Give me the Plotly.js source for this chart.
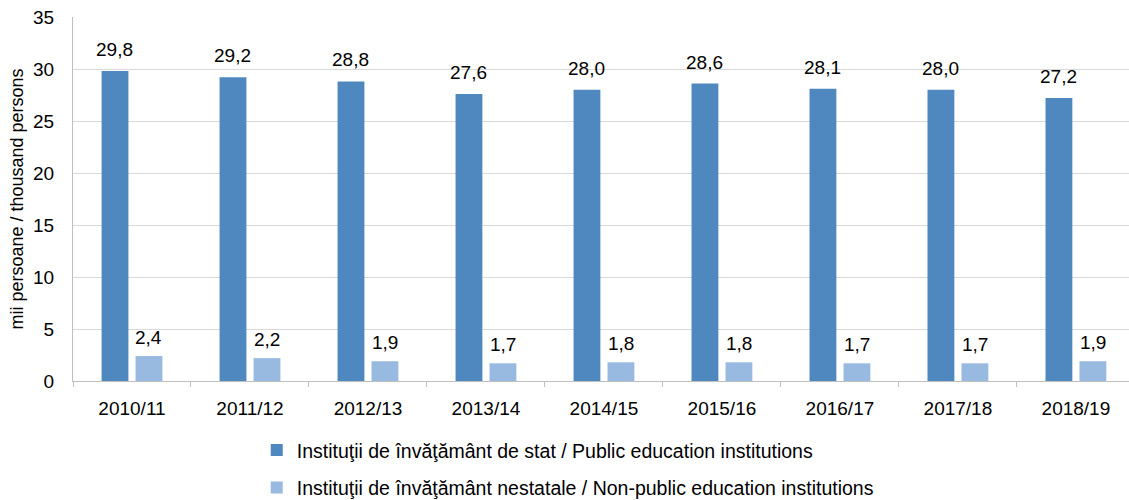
<!DOCTYPE html>
<html>
<head>
<meta charset="utf-8">
<script src="https://cdn.plot.ly/plotly-3.0.1.min.js"></script>
<style>html,body{margin:0;padding:0;background:#fff;}#chart{width:1129px;height:500px;}</style>
</head>
<body>
<div id="chart"></div>
<script>
var years = ["2010/11","2011/12","2012/13","2013/14","2014/15","2015/16","2016/17","2017/18","2018/19"];
var publicVals = [29.8, 29.2, 28.8, 27.6, 28.0, 28.6, 28.1, 28.0, 27.2];
var nonPublicVals = [2.4, 2.2, 1.9, 1.7, 1.8, 1.8, 1.7, 1.7, 1.9];
var seriesNames = ["Instituţii de învăţământ de stat / Public education institutions",
                   "Instituţii de învăţământ nestatale / Non-public education institutions"];
var yTicks = [0,5,10,15,20,25,30,35];

var font = "Liberation Sans, Arial, sans-serif";
var darkColor = "#4F88BF";
var lightColor = "#98BAE1";

function fmt(v){ return v.toFixed(1).replace('.', ','); }

var traces = [
  {type:'bar', x: years, y: publicVals, name: seriesNames[0], marker:{color: darkColor},
   legendgroup:'a', hoverinfo:'none'},
  {type:'bar', x: years, y: nonPublicVals, name: seriesNames[1], marker:{color: lightColor},
   legendgroup:'b', hoverinfo:'none'}
];

var annotations = [];
years.forEach(function(yr, i){
  annotations.push({x: yr, y: publicVals[i], xref:'x', yref:'y', text: fmt(publicVals[i]),
    showarrow:false, xshift:-17, yshift:9, yanchor:'bottom', font:{family:font, size:19, color:'#000'}});
  annotations.push({x: yr, y: nonPublicVals[i], xref:'x', yref:'y', text: fmt(nonPublicVals[i]),
    showarrow:false, xshift:17, yshift:6, yanchor:'bottom', font:{family:font, size:19, color:'#000'}});
});

var layout = {
  width:1129, height:500,
  margin:{l:73, r:0, t:17, b:119, autoexpand:false},
  paper_bgcolor:'#fff', plot_bgcolor:'#fff',
  barmode:'group', bargap:0.424, bargroupgap:0.21,
  font:{family:font, size:19, color:'#000'},
  xaxis:{type:'category', range:[-0.5, 8.45], tickson:'boundaries', ticks:'outside', ticklen:5,
    tickcolor:'#BFBFBF', showline:true, linecolor:'#BFBFBF', linewidth:1, showgrid:false,
    tickfont:{family:font, size:19, color:'#000'}, ticklabelstandoff:10, zeroline:false},
  yaxis:{range:[0,35], tickvals:yTicks, ticktext:yTicks.map(String), showgrid:true, gridcolor:'#D9D9D9',
    showline:true, linecolor:'#BFBFBF', ticks:'', zeroline:false, ticklabelstandoff:14,
    tickfont:{family:font, size:19, color:'#000'},
    title:{text:'mii persoane / thousand persons', font:{family:font, size:18, color:'#000'}, standoff:4}},
  legend:{orientation:'v', x:0.174, xanchor:'left', y:-0.137, yanchor:'top',
    font:{family:font, size:19.5, color:'#000'}, traceorder:'grouped', tracegroupgap:9,
    itemwidth:30, bgcolor:'rgba(0,0,0,0)'},
  showlegend:true,
  annotations: annotations
};

Plotly.newPlot('chart', traces, layout, {staticPlot:true, displayModeBar:false});
</script>
</body>
</html>
